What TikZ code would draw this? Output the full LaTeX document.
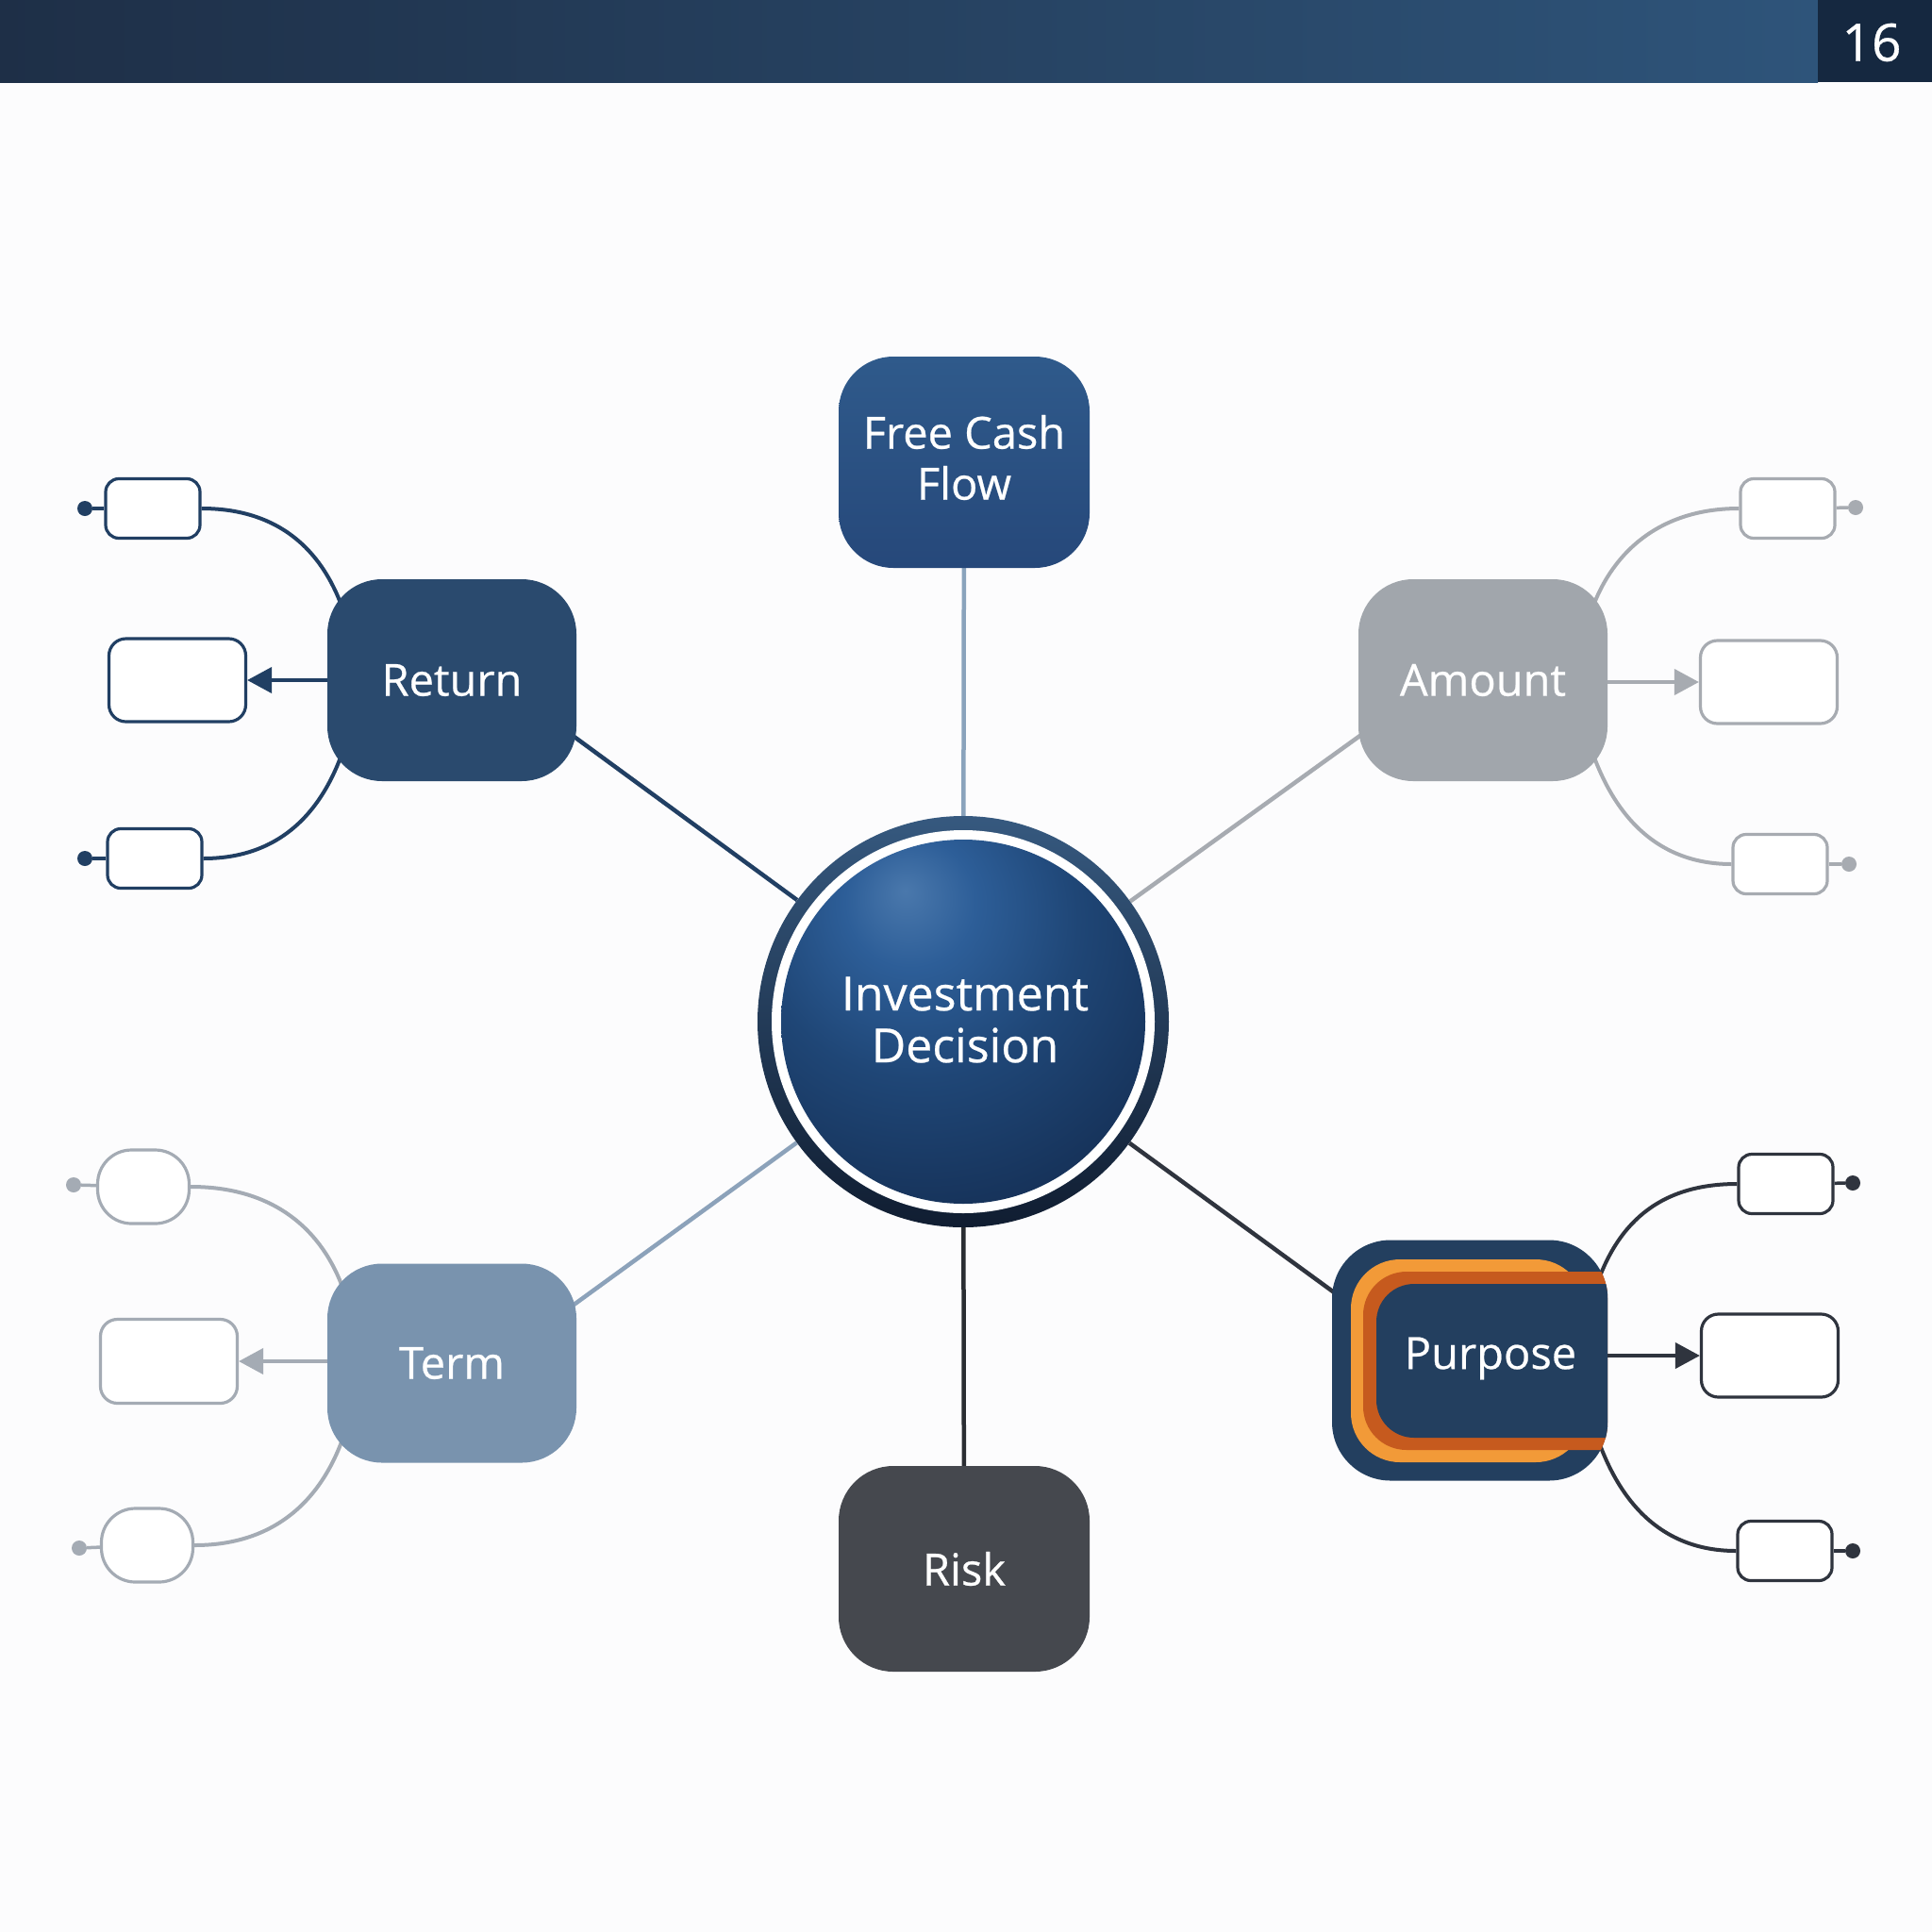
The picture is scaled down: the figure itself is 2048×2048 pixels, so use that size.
\documentclass[tikz,border=0pt]{standalone}
\usepackage{fontspec}
\setmainfont{Open Sans}
\newfontfamily\hubfam{Open Sans}[FakeBold=0.5]
\usetikzlibrary{arrows.meta,calc}

\definecolor{pagebg}{HTML}{FCFCFD}
\definecolor{barL}{HTML}{1E2F47}
\definecolor{barR}{HTML}{2E547A}
\definecolor{numbox}{HTML}{152840}
\definecolor{fcfA}{HTML}{2F5A8B}
\definecolor{fcfB}{HTML}{26487A}
\definecolor{fcfline}{HTML}{8AA3BC}
\definecolor{retfill}{HTML}{2A4A6E}
\definecolor{navyline}{HTML}{213F63}
\definecolor{amtfill}{HTML}{A1A6AC}
\definecolor{amtline}{HTML}{A7ABB1}
\definecolor{termfill}{HTML}{7993AE}
\definecolor{termleaf}{HTML}{A4ABB4}
\definecolor{termline}{HTML}{8CA2BA}
\definecolor{purfill}{HTML}{233F5F}
\definecolor{purline}{HTML}{2F343E}
\definecolor{riskfill}{HTML}{45484E}
\definecolor{riskline}{HTML}{2A2D32}
\definecolor{ringA}{HTML}{36597F}
\definecolor{ringB}{HTML}{101D31}
\definecolor{orangeL}{HTML}{F29A38}
\definecolor{orangeD}{HTML}{C65A1E}
\definecolor{orbA}{HTML}{4A78AC}
\definecolor{orbB}{HTML}{2D5E98}
\definecolor{orbC}{HTML}{1F4676}
\definecolor{orbD}{HTML}{163259}
\definecolor{orbE}{HTML}{0E1F38}
\definecolor{orbF}{HTML}{0A1628}

\pgfdeclareradialshading{orb}{\pgfpoint{-8bp}{18bp}}{color(0bp)=(orbA); color(9bp)=(orbB); color(22bp)=(orbC); color(38bp)=(orbD); color(54bp)=(orbE); color(66bp)=(orbF); color(100bp)=(orbF)}

\newcommand\hubfont{\hubfam\fontsize{47}{54}\selectfont}
\newcommand\cenfont{\hubfam\fontsize{50}{55}\selectfont}

\pgfdeclarelayer{bg}
\pgfsetlayers{bg,main}

\tikzset{
  hub/.style={rounded corners=58pt, minimum width=264pt, minimum height=214pt, inner sep=0pt, text=white, font=\hubfont, align=center},
  leaf/.style={draw, fill=white, line width=3.2pt, rounded corners=14pt, minimum width=100pt, minimum height=63pt, inner sep=0pt},
  bigleaf/.style={leaf, rounded corners=18pt, minimum width=145pt, minimum height=88pt},
  roundleaf/.style={leaf, rounded corners=36pt, minimum width=97pt, minimum height=78pt},
  knob/.style={circle, inner sep=0pt, minimum size=16pt},
  cline/.style={line width=4.5pt},
  curveline/.style={line width=4pt},
  stub/.style={line width=3.5pt},
  arr/.style={line width=4pt, -{Triangle[length=26pt,width=27pt]}}
}

\begin{document}
\begin{tikzpicture}[x=1pt,y=-1pt]
\useasboundingbox (0,0) rectangle (2048,2048);
\begin{pgfonlayer}{bg}
  \fill[pagebg] (0,0) rectangle (2048,2048);
\end{pgfonlayer}

% top bar
\shade[left color=barL, right color=barR] (0,0) rectangle (1927,87);
\fill[numbox] (1927,0) rectangle (2048,87);
\node[text=white, font=\hubfam\fontsize{55}{55}\selectfont, inner sep=0pt] (pagenum) at (1984,45) {16};

% hubs
\node[hub, top color=fcfA, bottom color=fcfB, minimum width=266pt, minimum height=224pt] (fcf) at (1022,490) {};
\node[text=white, font=\hubfont, align=center, inner sep=0pt] (fcft) at (1022,485) {Free Cash\\Flow};
\node[hub, fill=retfill] (ret) at (479,721) {Return};
\node[hub, fill=amtfill] (amt) at (1572,721) {Amount};
\node[hub, fill=termfill, minimum height=211pt] (term) at (479,1445) {Term};
\node[hub, fill=riskfill, minimum width=266pt, minimum height=218pt] (risk) at (1022,1663) {Risk};

% purpose (highlighted)
\node[hub, fill=purfill, minimum width=292pt, minimum height=255pt, rounded corners=62pt] (pur) at (1558,1442) {};
\begin{scope}
  \clip[rounded corners=62pt] (pur.north west) rectangle (pur.south east);
  \fill[orangeL, rounded corners=52pt] (1432,1335) rectangle (1680,1550);
  \fill[orangeD, rounded corners=46pt] (1445,1348) rectangle (1780,1537);
  \fill[purfill, rounded corners=40pt] (1459,1361) rectangle (1790,1524);
\end{scope}
\node[text=white, font=\hubfont, inner sep=0pt] (purt) at (1580,1440) {Purpose};

% centre
\node[circle, inner sep=0pt, minimum size=436pt] (cen) at (1021,1083) {};
\shade[top color=ringA, bottom color=ringB] (cen.center) circle (218);
\fill[white] (cen.center) circle (203);
\shade[shading=orb] (cen.center) circle (193);
\node[text=white, font=\cenfont, align=center, inner sep=0pt] (cent) at (1023,1081) {Investment\\Decision};

% leaves - Return
\node[leaf, draw=navyline] (r1) at (162,539) {};
\node[bigleaf, draw=navyline] (r2) at (188,721) {};
\node[leaf, draw=navyline] (r3) at (164,910) {};
\node[knob, fill=navyline] (r1k) at (90,539) {};
\node[knob, fill=navyline] (r3k) at (90,910) {};

% leaves - Amount
\node[leaf, draw=amtline] (a1) at (1895,539) {};
\node[bigleaf, draw=amtline] (a2) at (1875,723) {};
\node[leaf, draw=amtline] (a3) at (1887,916) {};
\node[knob, fill=amtline] (a1k) at (1967,538) {};
\node[knob, fill=amtline] (a3k) at (1960,916) {};

% leaves - Term
\node[roundleaf, draw=termleaf] (t1) at (152,1258) {};
\node[bigleaf, draw=termleaf, minimum height=89pt] (t2) at (179,1443) {};
\node[roundleaf, draw=termleaf] (t3) at (156,1638) {};
\node[knob, fill=termleaf] (t1k) at (78,1256) {};
\node[knob, fill=termleaf] (t3k) at (84,1641) {};

% leaves - Purpose
\node[leaf, draw=purline] (p1) at (1893,1255) {};
\node[bigleaf, draw=purline] (p2) at (1876,1437) {};
\node[leaf, draw=purline] (p3) at (1892,1644) {};
\node[knob, fill=purline] (p1k) at (1964,1254) {};
\node[knob, fill=purline] (p3k) at (1964,1644) {};

% arrows
\draw[arr, navyline] (ret.west |- r2.east) -- (r2.east);
\draw[arr, amtline] (amt.east |- a2.west) -- (a2.west);
\draw[arr, termleaf] (term.west |- t2.east) -- (t2.east);
\draw[arr, purline] (pur.east |- p2.west) -- (p2.west);

\begin{pgfonlayer}{bg}
  % spokes
  \draw[cline, fcfline] (cen) -- (fcf);
  \draw[cline, navyline] (cen) -- ($(ret)+(0,-35)$);
  \draw[cline, amtline] (cen) -- ($(amt)+(0,-35)$);
  \draw[cline, termline] (cen) -- ($(term)+(0,32)$);
  \draw[cline, purline] (cen) -- ($(pur)+(0,33)$);
  \draw[cline, riskline] (cen) -- (risk);
  % curved branches
  \draw[curveline, navyline] (r1.east) .. controls +(88,0) and +(-20,-60) .. ($(ret.north west)+(18,36)$);
  \draw[curveline, navyline] (r3.east) .. controls +(88,0) and +(-20,60) .. ($(ret.south west)+(18,-36)$);
  \draw[curveline, amtline] (a1.west) .. controls +(-88,0) and +(20,-60) .. ($(amt.north east)+(-18,36)$);
  \draw[curveline, amtline] (a3.west) .. controls +(-88,0) and +(20,60) .. ($(amt.south east)+(-18,-36)$);
  \draw[curveline, termleaf] (t1.east) .. controls +(90,0) and +(-22,-70) .. ($(term.north west)+(20,36)$);
  \draw[curveline, termleaf] (t3.east) .. controls +(90,0) and +(-22,70) .. ($(term.south west)+(20,-36)$);
  \draw[curveline, purline] (p1.west) .. controls +(-85,0) and +(22,-70) .. ($(pur.north east)+(-14,55)$);
  \draw[curveline, purline] (p3.west) .. controls +(-85,0) and +(22,70) .. ($(pur.south east)+(-14,-55)$);
  % stubs to knobs
  \draw[stub, navyline] (r1k) -- (r1);
  \draw[stub, navyline] (r3k) -- (r3);
  \draw[stub, amtline] (a1k) -- (a1);
  \draw[stub, amtline] (a3k) -- (a3);
  \draw[stub, termleaf] (t1k) -- (t1);
  \draw[stub, termleaf] (t3k) -- (t3);
  \draw[stub, purline] (p1k) -- (p1);
  \draw[stub, purline] (p3k) -- (p3);
\end{pgfonlayer}
\end{tikzpicture}
\end{document}
